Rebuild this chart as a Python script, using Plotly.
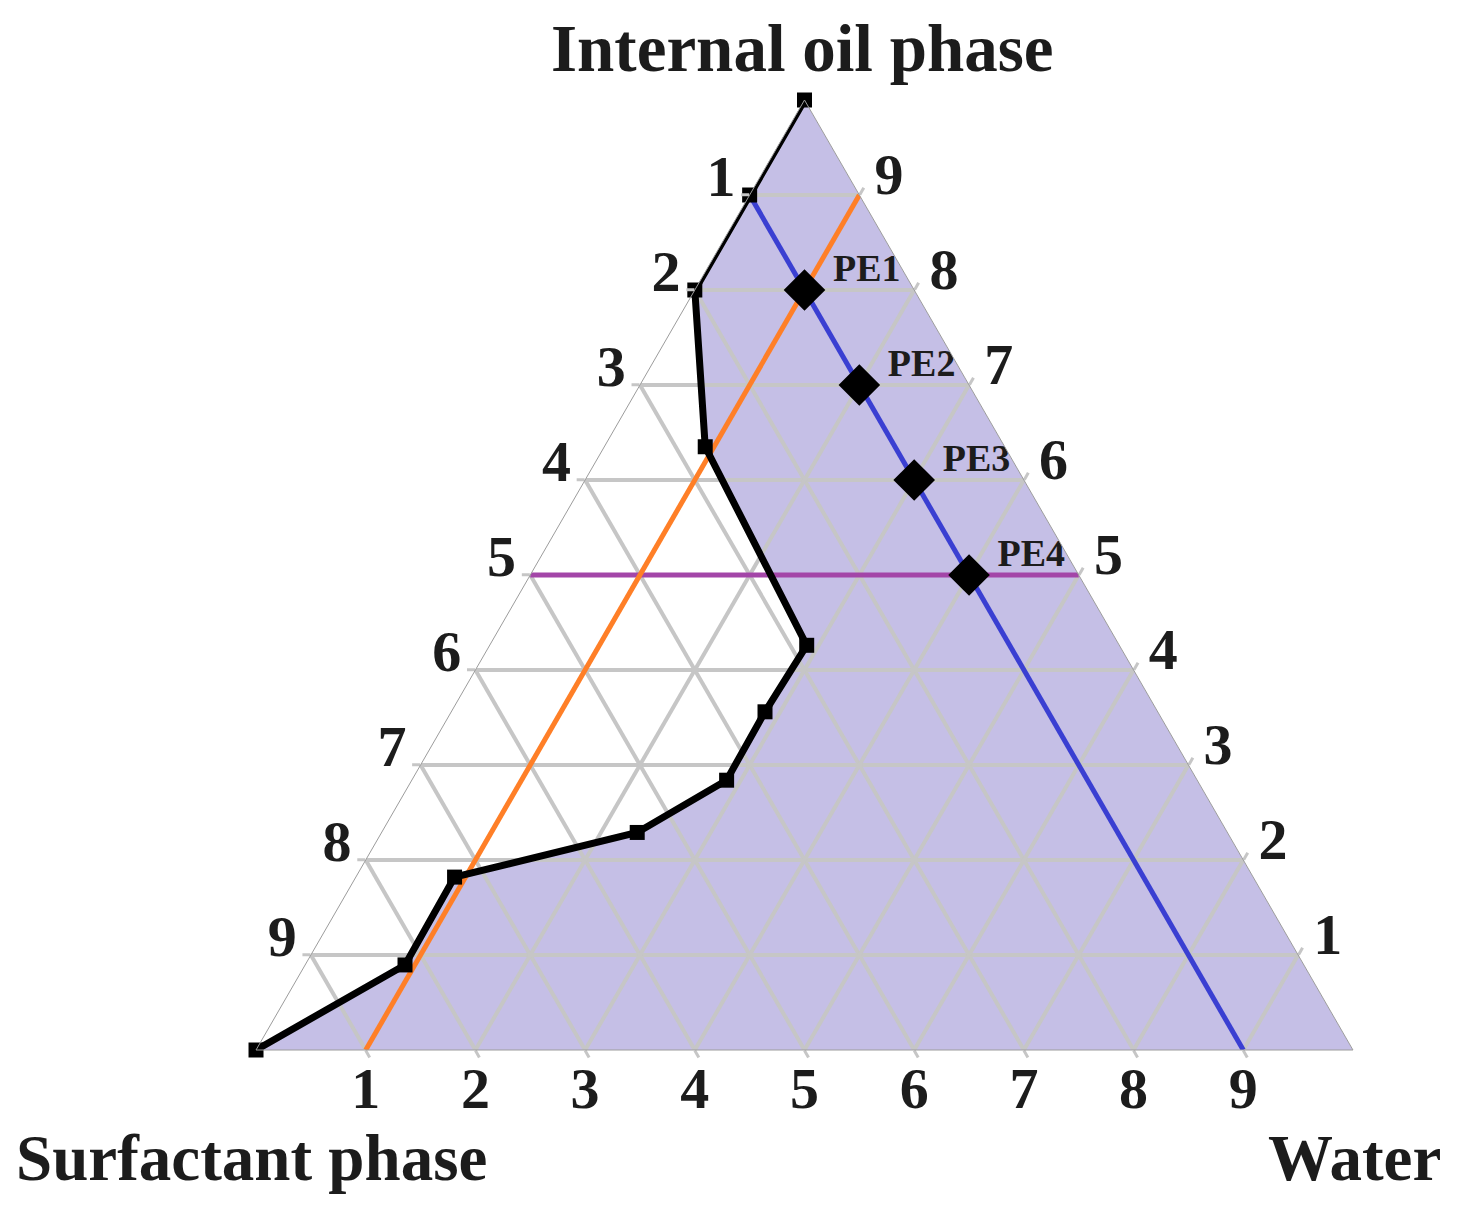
import plotly.graph_objects as go

# ---------------- data (fractions of each component) ----------------
# Phase boundary (black curve with square markers)
boundary_oil = [1.0, 0.9, 0.8, 0.635, 0.426, 0.356, 0.284, 0.229, 0.182, 0.0895, 0.0]
boundary_surf = [0.0, 0.1, 0.2, 0.273, 0.285, 0.358, 0.429, 0.538, 0.728, 0.819, 1.0]
boundary_water = [0.0, 0.0, 0.0, 0.092, 0.289, 0.286, 0.287, 0.233, 0.090, 0.091, 0.0]

# Formulations PE1..PE4
pe_labels = ["PE1", "PE2", "PE3", "PE4"]
pe_oil = [0.8, 0.7, 0.6, 0.5]
pe_surf = [0.1, 0.1, 0.1, 0.1]
pe_water = [0.1, 0.2, 0.3, 0.4]

# Constant-composition reference lines
water_const = 0.1   # orange line
surf_const = 0.1    # blue line
oil_const = 0.5     # purple line

# Ticks
tick_vals = [0.1, 0.2, 0.3, 0.4, 0.5, 0.6, 0.7, 0.8, 0.9]
tick_text = ["9", "8", "7", "6", "5", "4", "3", "2", "1"]

# ---------------- styles ----------------
SERIF = "Liberation Serif"
GRID = "#c6c6c6"
TXT = "#1c1c1c"
FILL = "#c5bfe6"
CLEAR = "rgba(0,0,0,0)"

# label anchors slide a little up along the side edges
SHIFT_LEFT = 0.0147
SHIFT_RIGHT = 0.0163

fig = go.Figure()

# Shaded single-phase region: boundary + the water vertex
fig.add_trace(go.Scatterternary(
    a=boundary_oil + [0.0], b=boundary_surf + [0.0], c=boundary_water + [1.0],
    mode="lines", fill="toself", fillcolor=FILL,
    line=dict(width=0, color=FILL), hoverinfo="skip", showlegend=False))

# Grid lines (drawn as traces so they show over the shaded area)
def const_lines(which):
    A, B, C = [], [], []
    for v in tick_vals:
        w = 1 - v
        if which == "a":
            A += [v, v, None]; B += [w, 0, None]; C += [0, w, None]
        elif which == "b":
            A += [w, 0, None]; B += [v, v, None]; C += [0, w, None]
        else:
            A += [w, 0, None]; B += [0, w, None]; C += [v, v, None]
    return A, B, C

for k in ["a", "b", "c"]:
    A, B, C = const_lines(k)
    fig.add_trace(go.Scatterternary(
        a=A, b=B, c=C, mode="lines", line=dict(color=GRID, width=4),
        hoverinfo="skip", showlegend=False))

# Purple: constant oil
fig.add_trace(go.Scatterternary(
    a=[oil_const, oil_const], b=[1 - oil_const, 0], c=[0, 1 - oil_const],
    mode="lines", line=dict(color="#a346a8", width=5),
    hoverinfo="skip", showlegend=False))
# Orange: constant water
fig.add_trace(go.Scatterternary(
    a=[1 - water_const, 0], b=[0, 1 - water_const], c=[water_const, water_const],
    mode="lines", line=dict(color="#ff7f27", width=5),
    hoverinfo="skip", showlegend=False))
# Blue: constant surfactant
fig.add_trace(go.Scatterternary(
    a=[1 - surf_const, 0], b=[surf_const, surf_const], c=[0, 1 - surf_const],
    mode="lines", line=dict(color="#3a3fd2", width=5),
    hoverinfo="skip", showlegend=False))

# Phase boundary
fig.add_trace(go.Scatterternary(
    a=boundary_oil, b=boundary_surf, c=boundary_water,
    mode="lines+markers", line=dict(color="black", width=7),
    marker=dict(symbol="square", size=15, color="black"),
    cliponaxis=False, showlegend=False))

# Formulations
fig.add_trace(go.Scatterternary(
    a=pe_oil, b=pe_surf, c=pe_water, mode="markers",
    marker=dict(symbol="diamond", size=32, color="black"),
    text=pe_labels, hoverinfo="text", showlegend=False))
fig.add_trace(go.Scatterternary(
    a=pe_oil, b=pe_surf, c=pe_water, mode="text",
    text=["\u00a0\u00a0\u00a0" + t for t in pe_labels], textposition="top right",
    textfont=dict(family=SERIF, size=38, color=TXT, weight="bold"),
    hoverinfo="skip", showlegend=False))

# Tick labels: text anchored on the edges, pushed outward by an invisible marker
tickfont = dict(family=SERIF, size=58, color=TXT, weight="bold")

def label_trace(A, B, C, pos, pad):
    return go.Scatterternary(
        a=A, b=B, c=C, mode="markers+text", text=tick_text, textposition=pos,
        textfont=tickfont, marker=dict(size=pad, color=CLEAR),
        cliponaxis=False, hoverinfo="skip", showlegend=False)

# left edge (oil-axis ticks)
fig.add_trace(label_trace([v + SHIFT_LEFT for v in tick_vals],
                          [1 - v - SHIFT_LEFT for v in tick_vals], [0] * 9,
                          "middle left", 34))
# right edge (water-axis ticks)
fig.add_trace(label_trace([1 - v + SHIFT_RIGHT for v in tick_vals], [0] * 9,
                          [v - SHIFT_RIGHT for v in tick_vals],
                          "middle right", 37))
# bottom edge (surfactant-axis ticks)
fig.add_trace(label_trace([0] * 9, tick_vals, [1 - v for v in tick_vals],
                          "bottom center", 22))

axis_common = dict(
    tickmode="array", tickvals=tick_vals, ticktext=tick_text,
    showgrid=False, showline=True, linecolor="#9c9c9c", linewidth=1,
    ticks="outside", ticklen=8, tickwidth=3, tickcolor=GRID,
    showticklabels=False, min=0, title=dict(text=""))

title_font = dict(family=SERIF, size=65, color=TXT, weight="bold")

fig.update_layout(
    width=1443, height=1193,
    margin=dict(l=248, r=98, t=92, b=151),
    paper_bgcolor="white",
    ternary=dict(
        sum=1, bgcolor="white",
        domain=dict(x=[0, 1], y=[0, 1]),
        aaxis=axis_common, baxis=axis_common, caxis=axis_common,
    ),
    annotations=[
        dict(text="Internal oil phase", x=0.4982, y=1.0547, xref="paper", yref="paper",
             xanchor="center", yanchor="middle", showarrow=False,
             font=dict(family=SERIF, size=67, color=TXT, weight="bold")),
        dict(text="Surfactant phase", x=-0.0041, y=-0.1137, xref="paper", yref="paper",
             xanchor="center", yanchor="middle", showarrow=False, font=title_font),
        dict(text="Water", x=1.0018, y=-0.1137, xref="paper", yref="paper",
             xanchor="center", yanchor="middle", showarrow=False, font=title_font),
    ],
    showlegend=False,
)

fig.write_html("out.html")
